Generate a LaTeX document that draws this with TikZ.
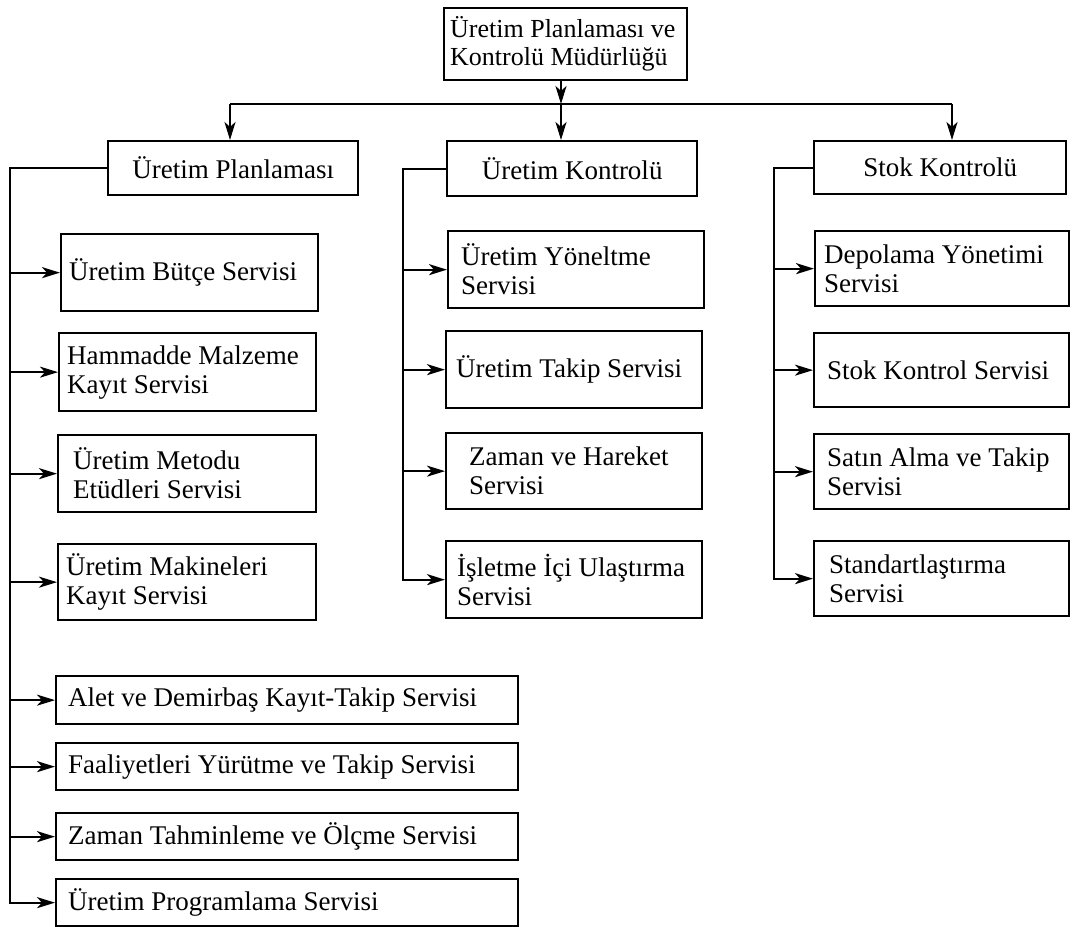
\documentclass[tikz,border=0pt]{standalone}
\usepackage{fontspec}
\setmainfont{Liberation Serif}
\usetikzlibrary{arrows.meta}
\begin{document}
\begin{tikzpicture}[x=1pt,y=-1pt,
  bx/.style={draw, line width=2.3pt, inner ysep=0pt, anchor=north west,
    font=\fontsize{27}{29}\selectfont, align=flush left},
  cbx/.style={bx, align=flush center},
  link/.style={line width=2.3pt},
  arr/.style={line width=2.3pt, -{Stealth[length=18pt,width=11pt,inset=5pt]}}]
\useasboundingbox (0,0) rectangle (1072,927);

% directorate
\node[bx, font=\fontsize{26}{28}\selectfont, minimum width=243pt, minimum height=72pt, inner xsep=6pt, text width=231pt] (T) at (443,7)
  {Üretim Planlaması ve\\Kontrolü Müdürlüğü};

% departments
\node[cbx, minimum width=250pt, minimum height=54pt, inner xsep=10pt, text width=230pt] (P) at (107,140) {Üretim Planlaması};
\node[cbx, minimum width=250pt, minimum height=55pt, inner xsep=10pt, text width=230pt] (K) at (446,140) {Üretim Kontrolü};
\node[cbx, minimum width=252pt, minimum height=53pt, inner xsep=10pt, text width=232pt] (S) at (813,140) {Stok Kontrolü};

% planning services
\node[bx, minimum width=257pt, minimum height=77pt, inner xsep=8pt,  text width=241pt] (p1) at (60,233) {Üretim Bütçe Servisi};
\node[bx, minimum width=257pt, minimum height=78pt, inner xsep=8pt,  text width=241pt] (p2) at (58,332) {Hammadde Malzeme\\Kayıt Servisi};
\node[bx, minimum width=258pt, minimum height=77pt, inner xsep=15pt, text width=228pt] (p3) at (57,434) {Üretim Metodu\\Etüdleri Servisi};
\node[bx, minimum width=258pt, minimum height=76pt, inner xsep=8pt,  text width=242pt] (p4) at (57,543) {Üretim Makineleri\\Kayıt Servisi};
\node[bx, minimum width=462pt, minimum height=48pt, inner xsep=12pt, text width=438pt] (p5) at (55,675) {Alet ve Demirbaş Kayıt-Takip Servisi};
\node[bx, minimum width=462pt, minimum height=47pt, inner xsep=12pt, text width=438pt] (p6) at (55,742) {Faaliyetleri Yürütme ve Takip Servisi};
\node[bx, minimum width=462pt, minimum height=47pt, inner xsep=12pt, text width=438pt] (p7) at (55,812) {Zaman Tahminleme ve Ölçme Servisi};
\node[bx, minimum width=462pt, minimum height=47pt, inner xsep=12pt, text width=438pt] (p8) at (55,878) {Üretim Programlama Servisi};

% control services
\node[bx, minimum width=256pt, minimum height=77pt, inner xsep=13pt, text width=230pt] (k1) at (447,230) {Üretim Yöneltme\\Servisi};
\node[bx, minimum width=256pt, minimum height=77pt, inner xsep=10pt, text width=236pt] (k2) at (445,330) {Üretim Takip Servisi};
\node[bx, minimum width=256pt, minimum height=76pt, inner xsep=23pt, text width=210pt] (k3) at (445,432) {Zaman ve Hareket\\Servisi};
\node[bx, minimum width=256pt, minimum height=77pt, inner xsep=11pt, text width=234pt] (k4) at (445,540) {İşletme İçi Ulaştırma\\Servisi};

% stock services
\node[bx, minimum width=254pt, minimum height=75pt, inner xsep=9pt,  text width=236pt] (s1) at (814,230) {Depolama Yönetimi\\Servisi};
\node[bx, minimum width=255pt, minimum height=74pt, inner xsep=13pt, text width=229pt] (s2) at (813,332) {Stok Kontrol Servisi};
\node[bx, minimum width=255pt, minimum height=75pt, inner xsep=13pt, text width=229pt] (s3) at (813,433) {Satın Alma ve Takip\\Servisi};
\node[bx, minimum width=255pt, minimum height=75pt, inner xsep=15pt, text width=225pt] (s4) at (813,540) {Standartlaştırma\\Servisi};

% distribution bus below the directorate
\coordinate (bL) at (230,104);
\coordinate (bM) at (561,104);
\coordinate (bR) at (952,104);
\draw[link] (bL) -- (bR);
\draw[arr] (T.south -| bM) -- (bM);
\draw[arr] (bL) -- (bL |- P.north);
\draw[arr] (bM) -- (bM |- K.north);
\draw[arr] (bR) -- (bR |- S.north);

% trunk lines of the three departments
\coordinate (tP) at (10,0);
\coordinate (tK) at (403,0);
\coordinate (tS) at (774,0);

\draw[arr] (P.west) -- (P.west -| tP) |- (p8.west);
\foreach \n in {p1,p2,p3,p4,p5,p6,p7}
  \draw[arr] (\n.west -| tP) -- (\n.west);

\draw[arr] (K.west) -- (K.west -| tK) |- (k4.west);
\foreach \n in {k1,k2,k3}
  \draw[arr] (\n.west -| tK) -- (\n.west);

\draw[arr] (S.west) -- (S.west -| tS) |- (s4.west);
\foreach \n in {s1,s2,s3}
  \draw[arr] (\n.west -| tS) -- (\n.west);
\end{tikzpicture}
\end{document}
